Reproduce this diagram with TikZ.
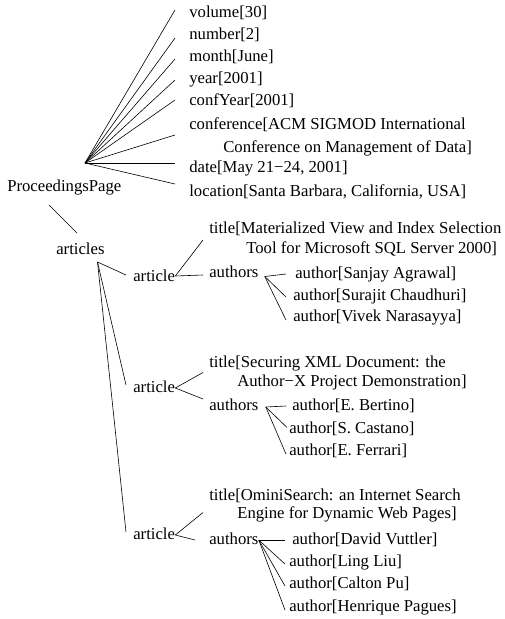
\documentclass[tikz,border=0pt]{standalone}
\usepackage{fontspec}
\setmainfont{Liberation Serif}

\begin{document}
\begin{tikzpicture}[x=1pt, y=-1pt, line width=0.6pt,
  font=\fontsize{16.7}{20}\selectfont,
  every node/.style={anchor=base west, inner sep=0pt}]
\useasboundingbox (0,0) rectangle (504,619);

\node (pp)   at (7,191)     {ProceedingsPage};
\node (vol)  at (189,17.5)  {volume[30]};
\node (num)  at (189,39.5)  {number[2]};
\node (mon)  at (189,61.5)  {month[June]};
\node (yr)   at (189,83.5)  {year[2001]};
\node (cyr)  at (189,105.5) {confYear[2001]};
\node[align=left] (conf) at (189,152)
  {conference[ACM SIGMOD International\\[3pt]\hspace*{34pt}Conference on Management of Data]};
\node (date) at (189,172.5) {date[May 21−24, 2001]};
\node (loc)  at (189,196.5) {location[Santa Barbara, California, USA]};

\coordinate (fan) at (85,163);
\draw (fan) -- ([xshift=-14pt,yshift=7.5pt]vol.base west);
\draw (fan) -- ([xshift=-14pt,yshift=1.5pt]num.base west);
\draw (fan) -- ([xshift=-14pt,yshift=2.5pt]mon.base west);
\draw (fan) -- ([xshift=-14pt,yshift=3.5pt]yr.base west);
\draw (fan) -- ([xshift=-14pt,yshift=5.5pt]cyr.base west);
\draw (fan) -- ([xshift=-14pt,yshift=17pt]conf.base west);
\draw (fan) -- ([xshift=-14pt,yshift=9.5pt]date.base west);
\draw (fan) -- ([xshift=-14pt,yshift=12.5pt]loc.base west);

\node (arts) at (56,254) {articles};
\draw ([xshift=42pt,yshift=-14pt]pp.base west) -- ([xshift=21pt,yshift=21pt]arts.base west);

% first article
\node (art1) at (133,281)   {article};
\node[align=left] (tit1) at (209,253.5)
  {title[Materialized View and Index Selection\\\hspace*{37pt}Tool for Microsoft SQL Server 2000]};
\node (aus1) at (209,277.5) {authors};
\node (a11)  at (295,278.5) {author[Sanjay Agrawal]};
\node (a12)  at (293,300.5) {author[Surajit Chaudhuri]};
\node (a13)  at (293,321.5) {author[Vivek Narasayya]};

% second article
\node (art2) at (133,392.5) {article};
\node[align=left] (tit2) at (209,386.5)
  {title[Securing XML Document: the\\[-1pt]\hspace*{28pt}Author−X Project Demonstration]};
\node (aus2) at (209,410.5) {authors};
\node (a21)  at (292,410.5) {author[E. Bertino]};
\node (a22)  at (289,433.5) {author[S. Castano]};
\node (a23)  at (289,455.5) {author[E. Ferrari]};

% third article
\node (art3) at (133,539.5) {article};
\node[align=left] (tit3) at (209,518)
  {title[OminiSearch: an Internet Search\\[-2.5pt]\hspace*{28pt}Engine for Dynamic Web Pages]};
\node (aus3) at (209,544)   {authors};
\node (a31)  at (292,544)   {author[David Vuttler]};
\node (a32)  at (289,566.5) {author[Ling Liu]};
\node (a33)  at (289,588.5) {author[Calton Pu]};
\node (a34)  at (289,611)   {author[Henrique Pagues]};

\coordinate (hub) at (97.5,262);
\draw (hub) -- ([xshift=-7pt,yshift=6pt]art1.base west);
\draw (hub) -- ([xshift=-7pt,yshift=7.5pt]art2.base west);
\draw (hub) -- ([xshift=-7pt,yshift=7.5pt]art3.base west);

\coordinate (k1) at ([yshift=5pt]art1.base east);
\coordinate (k2) at ([yshift=4.5pt]art2.base east);
\coordinate (k3) at ([yshift=4.5pt]art3.base east);
\draw (k1) -- ([xshift=-6pt,yshift=13.5pt]tit1.base west);
\draw (k1) -- ([xshift=-6pt,yshift=2.5pt]aus1.base west);
\draw (k2) -- ([xshift=-6pt,yshift=14pt]tit2.base west);
\draw (k2) -- ([xshift=-6pt,yshift=11.5pt]aus2.base west);
\draw (k3) -- ([xshift=-6pt,yshift=5.5pt]tit3.base west);
\draw (k3) -- ([xshift=-14pt,yshift=4pt]aus3.base west);

\coordinate (s1) at ([xshift=6pt,yshift=1pt]aus1.base east);
\coordinate (s2) at ([xshift=7pt,yshift=3.5pt]aus2.base east);
\coordinate (s3) at ([yshift=4pt]aus3.base east);
\draw (s1) -- ([xshift=-9pt,yshift=4.5pt]a11.base west);
\draw (s1) -- ([xshift=-7pt,yshift=3.5pt]a12.base west);
\draw (s1) -- ([xshift=-7pt,yshift=1.5pt]a13.base west);
\draw (s2) -- ([xshift=-6pt,yshift=4.5pt]a21.base west);
\draw (s2) -- ([xshift=-2pt,yshift=6pt]a22.base west);
\draw (s2) -- ([xshift=-3pt,yshift=1.5pt]a23.base west);
\draw (s3) -- ([xshift=-7pt,yshift=4pt]a31.base west);
\draw (s3) -- ([xshift=-4pt,yshift=2.5pt]a32.base west);
\draw (s3) -- ([xshift=-4pt,yshift=2.5pt]a33.base west);
\draw (s3) -- ([xshift=-4pt,yshift=1pt]a34.base west);
\end{tikzpicture}
\end{document}
